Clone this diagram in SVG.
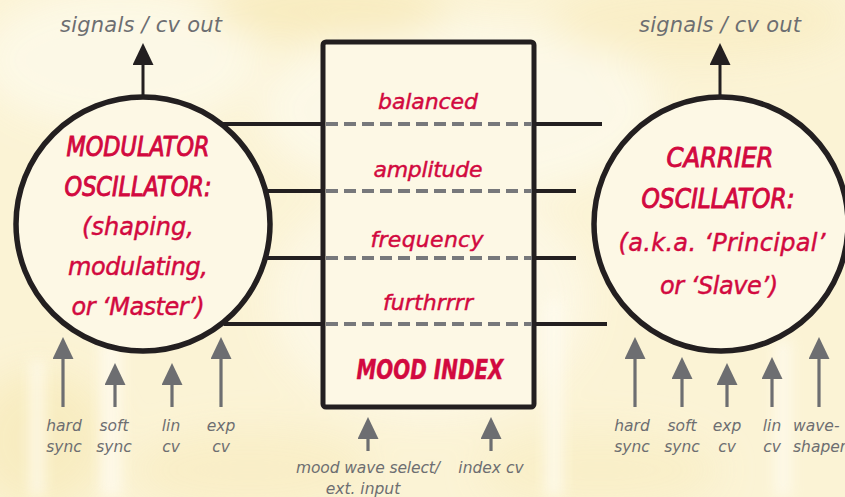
<svg xmlns="http://www.w3.org/2000/svg" width="845" height="497" viewBox="0 0 845 497">
  <defs>
    <filter id="blur" x="-50%" y="-50%" width="200%" height="200%"><feGaussianBlur stdDeviation="18"/></filter>
    <filter id="blur2" x="-50%" y="-50%" width="200%" height="200%"><feGaussianBlur stdDeviation="7"/></filter>
    <marker id="headK" markerUnits="userSpaceOnUse" markerWidth="22" markerHeight="21" refX="12" refY="10.5" orient="auto">
      <path d="M0,0 L22,10.5 L0,21 Z" fill="#231f20"/>
    </marker>
    <marker id="headG" markerUnits="userSpaceOnUse" markerWidth="22" markerHeight="21" refX="12" refY="10.5" orient="auto">
      <path d="M0,0 L22,10.5 L0,21 Z" fill="#6d6e71"/>
    </marker>
  </defs>
  <style>
    .ring { fill: #fdf8e5; stroke: #231f20; stroke-width: 5.5; }
    .box { fill: #fdf8e5; stroke: #231f20; stroke-width: 5; }
    .solid { stroke: #231f20; stroke-width: 4; fill: none; }
    .dash { stroke: #77787b; stroke-width: 4; stroke-dasharray: 12 6; fill: none; }
    .outk { stroke: #231f20; stroke-width: 3; marker-end: url(#headK); }
    .ing { stroke: #6d6e71; stroke-width: 3.2; marker-end: url(#headG); }
    .gray { font-family: "DejaVu Sans", "Liberation Sans", sans-serif; font-style: italic; fill: #6d6e71; }
    .out { font-size: 21px; }
    .small { font-size: 15.5px; }
    .title { font-family: "DejaVu Sans Condensed", "Liberation Sans Narrow", "DejaVu Sans", sans-serif; font-style: italic; fill: #d2093f; stroke: #d2093f; stroke-width: 0.9; font-size: 27px; }
    .heavy { font-weight: bold; stroke-width: 0.4; }
    .sub { font-family: "DejaVu Sans", "Liberation Sans", sans-serif; font-style: italic; fill: #d2093f; stroke: #d2093f; stroke-width: 0.45; font-size: 24px; }
    .lab { font-family: "DejaVu Sans", "Liberation Sans", sans-serif; font-style: italic; fill: #d2093f; stroke: #d2093f; stroke-width: 0.45; font-size: 22px; }
  </style>

  <!-- background -->
  <rect x="0" y="0" width="845" height="497" fill="#fbf3d5"/>
  <g filter="url(#blur)" opacity="0.9">
    <ellipse cx="120" cy="60" rx="140" ry="70" fill="#fdf9e8"/>
    <ellipse cx="460" cy="110" rx="200" ry="90" fill="#fdf9e9"/>
    <ellipse cx="330" cy="10" rx="120" ry="30" fill="#f8ebbd"/>
    <ellipse cx="700" cy="20" rx="150" ry="40" fill="#f9eec6"/>
    <ellipse cx="40" cy="440" rx="70" ry="70" fill="#f8ecc0"/>
    <ellipse cx="430" cy="300" rx="160" ry="120" fill="#fdf8e6"/>
    <ellipse cx="250" cy="470" rx="120" ry="40" fill="#f9eec6"/>
    <ellipse cx="600" cy="470" rx="120" ry="40" fill="#f9efc8"/>
  </g>
  <g filter="url(#blur2)" opacity="0.8">
    <rect x="100" y="340" width="22" height="157" fill="#fefbee"/>
    <rect x="545" y="300" width="18" height="197" fill="#fefbee"/>
    <rect x="30" y="360" width="14" height="137" fill="#fefbee"/>
    <rect x="775" y="340" width="16" height="157" fill="#fefbee"/>
  </g>

  <!-- connectors -->
  <g id="connectors">
    <line class="solid" x1="222" y1="124" x2="325" y2="124"/>
    <line class="solid" x1="265" y1="191" x2="325" y2="191"/>
    <line class="solid" x1="265" y1="258" x2="325" y2="258"/>
    <line class="solid" x1="224" y1="324" x2="325" y2="324"/>
    <line class="solid" x1="533" y1="124" x2="602" y2="124"/>
    <line class="solid" x1="533" y1="191" x2="576" y2="191"/>
    <line class="solid" x1="533" y1="258" x2="576" y2="258"/>
    <line class="solid" x1="533" y1="324" x2="607" y2="324"/>

    <line class="outk" x1="143" y1="97" x2="143" y2="53"/>
    <line class="outk" x1="720" y1="97" x2="720" y2="53"/>

    <line class="ing" x1="63" y1="407" x2="63" y2="347"/>
    <line class="ing" x1="115" y1="407" x2="115" y2="373"/>
    <line class="ing" x1="172" y1="407" x2="172" y2="373"/>
    <line class="ing" x1="221" y1="407" x2="221" y2="347"/>

    <line class="ing" x1="368" y1="451" x2="368" y2="427"/>
    <line class="ing" x1="491" y1="451" x2="491" y2="427"/>

    <line class="ing" x1="635" y1="407" x2="635" y2="347"/>
    <line class="ing" x1="682" y1="407" x2="682" y2="367"/>
    <line class="ing" x1="727" y1="407" x2="727" y2="373"/>
    <line class="ing" x1="772" y1="407" x2="772" y2="367"/>
    <line class="ing" x1="819" y1="407" x2="819" y2="347"/>
  </g>

  <!-- mood index box -->
  <g id="mood-index">
    <rect class="box" x="323" y="42" width="211" height="365" rx="3"/>
    <line class="dash" x1="326" y1="124" x2="532" y2="124"/>
    <line class="dash" x1="326" y1="191" x2="532" y2="191"/>
    <line class="dash" x1="326" y1="258" x2="532" y2="258"/>
    <line class="dash" x1="326" y1="324" x2="532" y2="324"/>
    <text class="lab" x="428" y="109" text-anchor="middle" textLength="100">balanced</text>
    <text class="lab" x="428" y="177" text-anchor="middle" textLength="109">amplitude</text>
    <text class="lab" x="427" y="247" text-anchor="middle" textLength="113">frequency</text>
    <text class="lab" x="428" y="310" text-anchor="middle" textLength="90">furthrrrr</text>
    <text class="title heavy" x="430" y="379" text-anchor="middle" textLength="147" lengthAdjust="spacingAndGlyphs">MOOD INDEX</text>
  </g>

  <!-- modulator -->
  <g id="modulator">
    <circle class="ring" cx="143" cy="224" r="127"/>
    <text class="title" x="138" y="156" text-anchor="middle" textLength="143" lengthAdjust="spacingAndGlyphs">MODULATOR</text>
    <text class="title" x="138" y="196" text-anchor="middle" textLength="147" lengthAdjust="spacingAndGlyphs">OSCILLATOR:</text>
    <text class="sub" x="138" y="235" text-anchor="middle" textLength="112">(shaping,</text>
    <text class="sub" x="138" y="275" text-anchor="middle" textLength="140">modulating,</text>
    <text class="sub" x="138" y="315" text-anchor="middle" textLength="133">or ‘Master’)</text>
  </g>

  <!-- carrier -->
  <g id="carrier">
    <circle class="ring" cx="721" cy="224" r="127"/>
    <text class="title" x="720" y="167" text-anchor="middle" textLength="107" lengthAdjust="spacingAndGlyphs">CARRIER</text>
    <text class="title" x="718" y="208" text-anchor="middle" textLength="153" lengthAdjust="spacingAndGlyphs">OSCILLATOR:</text>
    <text class="sub" x="722" y="251" text-anchor="middle" textLength="207">(a.k.a. ‘Principal’</text>
    <text class="sub" x="719" y="294" text-anchor="middle" textLength="118">or ‘Slave’)</text>
  </g>

  <!-- output labels -->
  <g id="out-labels">
    <text class="gray out" x="141" y="32" text-anchor="middle" textLength="162">signals / cv out</text>
    <text class="gray out" x="720" y="32" text-anchor="middle" textLength="162">signals / cv out</text>
  </g>

  <!-- input labels -->
  <g id="in-labels" class="gray small" text-anchor="middle">
    <text x="64" y="431">hard</text><text x="64" y="452">sync</text>
    <text x="114" y="431">soft</text><text x="114" y="452">sync</text>
    <text x="171" y="431">lin</text><text x="171" y="452">cv</text>
    <text x="221" y="431">exp</text><text x="221" y="452">cv</text>
    <text x="368" y="473" textLength="144">mood wave select/</text>
    <text x="363" y="494">ext. input</text>
    <text x="491" y="473">index cv</text>
    <text x="632" y="431">hard</text><text x="632" y="452">sync</text>
    <text x="682" y="431">soft</text><text x="682" y="452">sync</text>
    <text x="727" y="431">exp</text><text x="727" y="452">cv</text>
    <text x="772" y="431">lin</text><text x="772" y="452">cv</text>
    <text x="793" y="431" text-anchor="start">wave-</text>
    <text x="793" y="452" text-anchor="start">shaper</text>
  </g>
</svg>
